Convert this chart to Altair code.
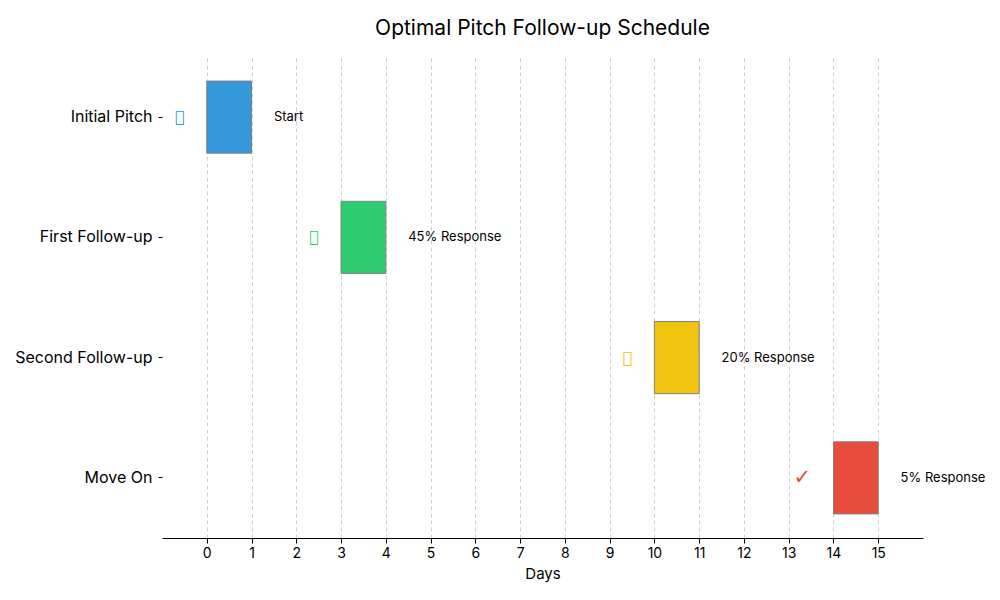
import altair as alt
import pandas as pd

stages = ["Initial Pitch", "First Follow-up", "Second Follow-up", "Move On"]
start_day = [0, 3, 10, 14]
duration = [1, 1, 1, 1]
notes = ["Start", "45% Response", "20% Response", "5% Response"]
icons = ["\uE000", "\uE001", "\uE002", "\u2713"]
colors = ["#3498db", "#2ecc71", "#f1c40f", "#e74c3c"]
day_ticks = list(range(0, 16))

df = pd.DataFrame({
    "stage": stages,
    "start": start_day,
    "end": [s + d for s, d in zip(start_day, duration)],
    "note": notes,
    "icon": icons,
    "color": colors,
})
df["note_x"] = df["end"] + 0.5
df["icon_x"] = df["start"] - 0.5

FONT = "Inter"

x_scale = alt.Scale(domain=[-1, 16], nice=False, zero=False)
y_scale = alt.Scale(domain=stages, paddingInner=0.4, paddingOuter=0.2)

base = alt.Chart(df)

bars = base.mark_bar(stroke="#808080", strokeWidth=1, cornerRadius=0).encode(
    x=alt.X("start:Q", scale=x_scale,
            axis=alt.Axis(values=day_ticks, title="Days", grid=True,
                          gridDash=[4, 3], gridColor="#d0d0d0", gridWidth=1,
                          domainColor="black", tickColor="black", tickSize=5,
                          labelFontSize=14, titleFontSize=15, labelColor="black",
                          titleColor="black", labelFont=FONT, titleFont=FONT,
                          titleFontWeight="normal", labelPadding=3, titlePadding=6)),
    x2="end:Q",
    y=alt.Y("stage:N", scale=y_scale, sort=stages,
            axis=alt.Axis(title=None, domain=False, grid=False, tickColor="black",
                          tickSize=4, labelFontSize=16, labelColor="black",
                          labelFont=FONT, labelPadding=6)),
    color=alt.Color("color:N", scale=None),
)

note_text = base.mark_text(align="left", baseline="middle", fontSize=13,
                           font=FONT, color="black").encode(
    x=alt.X("note_x:Q", scale=x_scale),
    y=alt.Y("stage:N", scale=y_scale, sort=stages),
    text="note:N",
)

icon_text = base.mark_text(align="right", baseline="middle",
                           font="DejaVu Sans").encode(
    x=alt.X("icon_x:Q", scale=x_scale),
    y=alt.Y("stage:N", scale=y_scale, sort=stages),
    text="icon:N",
    color=alt.Color("color:N", scale=None),
    size=alt.condition("datum.icon == '\u2713'", alt.value(21), alt.value(16)),
)

chart = alt.layer(bars, note_text, icon_text).properties(
    width=761,
    height=481,
    title=alt.TitleParams("Optimal Pitch Follow-up Schedule", fontSize=21,
                          font=FONT, fontWeight="normal", color="black",
                          anchor="middle", offset=18),
    autosize=alt.AutoSizeParams(type="none"),
    padding={"left": 162, "top": 57, "right": 77, "bottom": 62},
).configure(
    background="white",
    view=alt.ViewConfig(strokeWidth=0, stroke="transparent"),
)

chart.save("out.html", embed_options={"renderer": "svg", "actions": False})
